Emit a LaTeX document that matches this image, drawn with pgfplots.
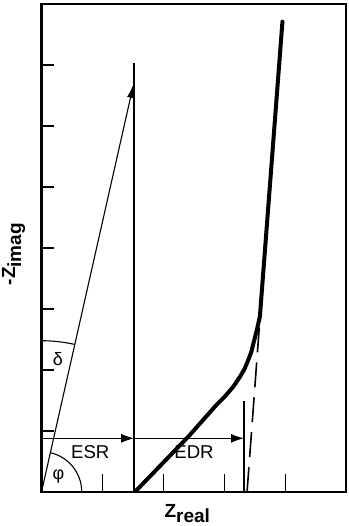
\documentclass[border=0pt]{standalone}
\usepackage{fontspec}
\setmainfont{Liberation Sans}
\usepackage{pgfplots}
\pgfplotsset{compat=1.18}
\usetikzlibrary{arrows.meta}
\begin{document}
\begin{tikzpicture}
\useasboundingbox (-41.5bp,-34bp) rectangle (307.5bp,492bp);
\begin{axis}[
  at={(0,0)}, anchor=south west,
  scale only axis, width=305bp, height=488bp,
  xmin=0, xmax=5, ymin=0, ymax=8,
  axis line style={line width=2bp},
  xtick={1,2,3,4}, ytick={1,2,3,4,5,6,7},
  xticklabels={}, yticklabels={},
  tick align=inside, xtick pos=left, ytick pos=left,
  xtick style={line width=1.2bp, black, /pgfplots/major tick length=17.5bp},
  ytick style={line width=1.2bp, black, /pgfplots/major tick length=12.7bp},
  clip=false,
]
% ESR vertical line and EDR vertical line
\addplot[line width=1.8bp, black] coordinates {(1.52,0) (1.52,7.03)};
\addplot[line width=1.8bp, black] coordinates {(3.32,0) (3.32,1.50)};
% impedance vector
\addplot[line width=1.1bp, black, -{Latex[length=14bp,width=7bp]}] coordinates {(0,0) (1.51,6.69)};
% ESR and EDR arrows
\addplot[line width=1.3bp, black, -{Latex[length=13bp,width=9bp]}] coordinates {(0,0.88) (1.52,0.88)};
\addplot[line width=1.3bp, black, -{Latex[length=13bp,width=9bp]}] coordinates {(1.52,0.88) (3.32,0.88)};
% dashed extrapolation
\addplot[line width=1.6bp, black, dash pattern=on 25bp off 10bp] coordinates {(3.37,0) (3.585,2.9)};
% thick impedance curve
\addplot[line width=4bp, black, line join=round, line cap=round] coordinates {
(1.55,0.02) (2.40,0.90) (2.87,1.43) (3.01,1.57) (3.144,1.726) (3.254,1.890)
(3.33,2.02) (3.39,2.164) (3.44,2.30) (3.475,2.437) (3.53,2.656) (3.58,2.874) (3.95,7.71)};
% angle arcs
\draw[line width=1.1bp] (axis cs:0.66,0) arc[start angle=0, end angle=77.3, radius=40.3bp];
\draw[line width=1.1bp] (axis cs:0,2.48) arc[start angle=90, end angle=77.3, radius=151.3bp];
% labels
\node[font=\fontsize{18bp}{20bp}\selectfont] at (axis cs:0.27,2.18) {δ};
\node[font=\fontsize{18bp}{20bp}\selectfont] at (axis cs:0.28,0.25) {φ};
\node[font=\fontsize{18.6bp}{22bp}\selectfont] at (axis cs:0.80,0.66) {ESR};
\node[font=\fontsize{18.6bp}{22bp}\selectfont] at (axis cs:2.50,0.66) {EDR};
\node[anchor=base, font=\fontsize{19bp}{22bp}\selectfont\bfseries] at (axis cs:2.39,-0.41) {Z\raisebox{-5bp}{real}};
\node[rotate=90, anchor=base, font=\fontsize{19bp}{22bp}\selectfont\bfseries] at (axis cs:-0.434,3.90) {-Z\raisebox{-6bp}{imag}};
\end{axis}
\end{tikzpicture}
\end{document}
